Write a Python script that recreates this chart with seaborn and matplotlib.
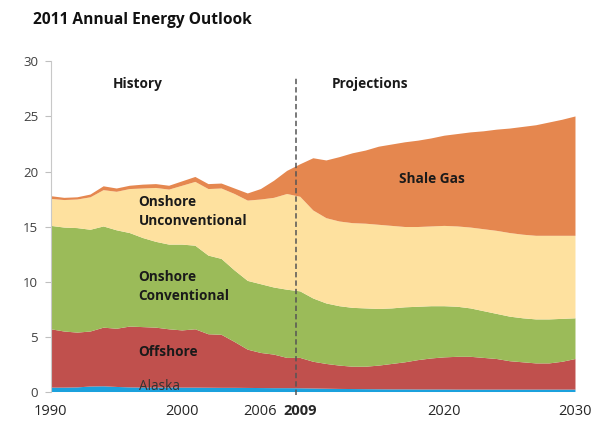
"""
plot.py
-------
US natural gas production by source, history + projections
(2011 Annual Energy Outlook), drawn as a stacked area chart.
"""

import matplotlib
matplotlib.use("Agg")
import matplotlib.pyplot as plt
import seaborn as sns

sns.set_theme(style="white")
plt.rcParams["font.family"] = ["Open Sans", "DejaVu Sans"]

# ---------------- data (tcf) ----------------
years = list(range(1990, 2031))

# upper edge of each layer (cumulative from the bottom)
alaska_top = [0.40, 0.40, 0.42, 0.50, 0.52, 0.46, 0.42, 0.40, 0.40, 0.40,
              0.40, 0.40, 0.39, 0.38, 0.38, 0.37, 0.36, 0.35, 0.35, 0.34,
              0.32, 0.30, 0.28, 0.27, 0.26, 0.25, 0.24, 0.24, 0.23, 0.23,
              0.23, 0.22, 0.22, 0.22, 0.22, 0.22, 0.22, 0.22, 0.22, 0.22,
              0.22]
offshore_top = [5.70, 5.50, 5.40, 5.50, 5.85, 5.75, 5.95, 5.90, 5.85, 5.70,
                5.60, 5.70, 5.25, 5.20, 4.55, 3.85, 3.55, 3.40, 3.10, 3.10,
                2.75, 2.55, 2.40, 2.30, 2.30, 2.40, 2.55, 2.70, 2.90, 3.05,
                3.15, 3.20, 3.20, 3.10, 3.00, 2.80, 2.70, 2.60, 2.60, 2.75,
                3.00]
conventional_top = [15.10, 14.95, 14.90, 14.75, 15.05, 14.70, 14.45, 14.00,
                    13.65, 13.40, 13.40, 13.30, 12.40, 12.10, 11.05, 10.10,
                    9.80, 9.50, 9.30, 9.15, 8.50, 8.05, 7.80, 7.65, 7.60,
                    7.55, 7.60, 7.70, 7.75, 7.80, 7.80, 7.75, 7.60, 7.35,
                    7.10, 6.85, 6.70, 6.60, 6.60, 6.65, 6.70]
unconventional_top = [17.55, 17.45, 17.50, 17.70, 18.35, 18.20, 18.45, 18.50,
                      18.55, 18.40, 18.75, 19.10, 18.45, 18.50, 18.00, 17.40,
                      17.50, 17.65, 18.00, 17.75, 16.50, 15.80, 15.50, 15.35,
                      15.30, 15.20, 15.10, 15.00, 15.00, 15.05, 15.10, 15.05,
                      14.95, 14.80, 14.65, 14.45, 14.30, 14.20, 14.20, 14.20,
                      14.20]
total = [17.80, 17.65, 17.70, 17.95, 18.70, 18.50, 18.75, 18.85, 18.90, 18.75,
         19.15, 19.55, 18.90, 18.95, 18.50, 18.05, 18.45, 19.20, 20.10, 20.70,
         21.25, 21.05, 21.35, 21.70, 21.95, 22.30, 22.50, 22.70, 22.85, 23.05,
         23.30, 23.45, 23.60, 23.70, 23.85, 23.95, 24.10, 24.25, 24.50, 24.75,
         25.05]

tick_years = [1990, 2000, 2006, 2009, 2020, 2030]
split_year = 2008.75

layers = [
    ("Alaska", None, alaska_top, "#1ba1dd"),
    ("Offshore", alaska_top, offshore_top, "#c0504d"),
    ("Onshore Conventional", offshore_top, conventional_top, "#9bbb59"),
    ("Onshore Unconventional", conventional_top, unconventional_top, "#fee19f"),
    ("Shale Gas", unconventional_top, total, "#e5874f"),
]

# ---------------- chart ----------------
fig = plt.figure(figsize=(6.1, 4.25), dpi=100)
ax = fig.add_axes([0.0831, 0.0788, 0.8595, 0.7765])

for name, lower, upper, color in layers:
    ax.fill_between(years, 0 if lower is None else lower, upper,
                    color=color, linewidth=0)

ax.plot([split_year, split_year], [-0.35, 28.7], color="#555555",
        linestyle=(0, (3.5, 2)), linewidth=1.1, clip_on=False)

ax.set_xlim(1990, 2030)
ax.set_ylim(0, 30)
ax.set_yticks([0, 5, 10, 15, 20, 25, 30])
ax.set_xticks(tick_years)
ax.set_xticklabels([str(y) for y in tick_years])
for lbl in ax.get_xticklabels():
    if lbl.get_text() == "2009":
        lbl.set_fontweight("bold")
ax.tick_params(axis="y", left=True, length=4, width=0.8, color="#bfbfbf",
               labelsize=9.5, labelcolor="#404040", pad=5)
ax.tick_params(axis="x", bottom=False, labelsize=10.5, labelcolor="#262626",
               pad=3)

for side in ["top", "right", "bottom"]:
    ax.spines[side].set_visible(False)
ax.spines["left"].set_color("#c8c8c8")
ax.spines["left"].set_linewidth(0.8)

bold = dict(fontweight="bold", color="#1a1a1a", fontsize=9.8)
ax.text(1996.6, 27.95, "History", ha="center", va="center", **bold)
ax.text(2014.4, 27.95, "Projections", ha="center", va="center", **bold)
ax.text(2019.1, 19.3, "Shale Gas", ha="center", va="center", **bold)
ax.text(1996.7, 16.36, "Onshore\nUnconventional", ha="left", va="center",
        linespacing=1.4, **bold)
ax.text(1996.7, 9.55, "Onshore\nConventional", ha="left", va="center",
        linespacing=1.4, **bold)
ax.text(1996.7, 3.6, "Offshore", ha="left", va="center", **bold)
ax.text(1996.7, 0.45, "Alaska", ha="left", va="center", fontsize=9.8,
        color="#333333")

fig.text(0.054, 0.953, "2011 Annual Energy Outlook", ha="left", va="center",
         fontsize=11.2, fontweight="bold", color="#111111")

plt.savefig("out.png", dpi=100)
